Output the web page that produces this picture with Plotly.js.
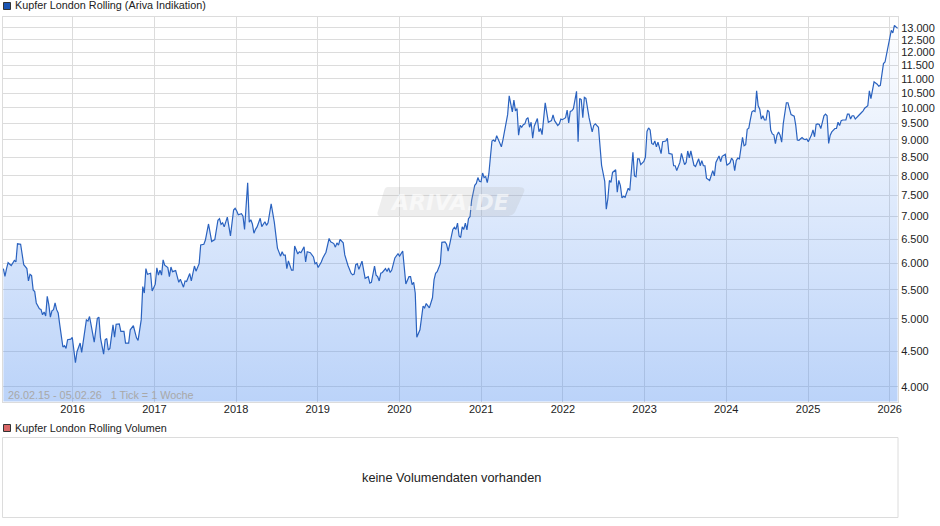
<!DOCTYPE html>
<html><head><meta charset="utf-8">
<script src="https://cdn.plot.ly/plotly-3.0.1.min.js"></script>
<style>html,body{margin:0;padding:0;background:#fff}#c{width:940px;height:526px}</style>
</head><body><div id="c"></div>
<script>
const startDate = "2015-02-26";
const weeksA = [0,1,2,3,5,7,8,9,11,12,13,15,16,17,18,19,20,21,23,24,25,26,27,28,29,30,31,32,33,34,35,36,38,39,40,41,43,44,45,46,47,49,50,51,53,54,55,56,58,60,61,62,64,65,66,67,68,70,71,72,74,75,77,78,80,81,83,85,86,88,89,90,91,92,94];
const valuesA = [5900,5750,5900,6015,5960,6060,6030,6400,6390,6170,5975,5900,5665,5790,5765,5500,5470,5270,5170,5160,5070,5115,5050,5385,5240,5030,5135,5155,5270,5155,5100,4905,4560,4580,4540,4670,4680,4705,4540,4330,4490,4620,4480,4645,4985,4965,5040,4905,4635,5010,5030,4700,4455,4670,4690,4515,4540,4905,4710,4915,4920,4800,4800,4620,4620,4825,4890,4700,4660,4985,5560,5445,5900,5790,5810];
const weeksB = [95,97,98,99,100,101,102,103,105,106,107,108,110,112,113,115,116,117,119,120,122,123,125,126,128,129,131,133,135,136,137,138,139,140,141,143,145,147,148,149,150,152,153,154,156,157,158,159,160,161,162,164,165,167,168,169,171,173,174,175,177,178,179,180,181,182,184,185,186,188];
const valuesB = [5480,5605,5915,5775,5870,5775,6070,5965,5920,5745,5930,5840,5860,5640,5695,5550,5665,5655,5805,5665,5950,5850,5995,6375,6390,6480,6830,6450,6490,6660,6915,6950,6820,6855,6765,6985,6570,7150,7190,7130,7040,7065,7005,6710,7820,6870,6925,6830,6625,6710,6765,6960,6770,6880,6800,6855,7300,6870,6620,6310,6145,6235,6165,6165,5900,6050,5870,5870,6355,6190];
const weeksC = [189,190,192,193,194,196,198,199,200,201,203,204,206,208,209,211,212,213,214,215,217,218,220,222,223,224,225,226,227,229,231,233,234,235,237,238,239,240,241,242,244,245,246,247,248,250,252,253,255,257,259,260,261,262,263,264,266,268,269,270,272,274,275,276,277,279,280,282,283,284,285];
const valuesC = [6235,6215,6335,6030,6235,6215,6130,5995,6015,5920,6030,6110,6225,6515,6440,6405,6330,6420,6370,6495,6420,6170,5965,5810,5780,5795,5975,5995,5885,6045,5715,5745,5625,5640,5950,5775,5745,5665,5810,5825,5900,5845,5910,5825,5870,6110,6195,6145,6250,5610,5745,5745,5595,5640,5445,4710,4825,5215,5185,5260,5185,5360,5685,5810,5840,5995,6430,6440,6390,6250,6390];
const weeksD = [287,288,289,290,291,292,293,294,295,296,297,298,299,301,302,303,304,305,306,307,308,309,310,311,312,313,314,315,316,318,319,321,322,323,324,325,326,327,328,329,330,331,332,333,334,335,336,337,338,339,341,342,343,344,346,347,348,350,351,352,353,354,355,356,357,359,360,361,362,363,364,366,367,368,369,370,371,372,374,376,377,378,380,381];
const valuesD = [6710,6755,6710,6850,6565,6535,6765,6710,6850,6700,6950,7000,7380,7755,7805,7955,7860,7845,8075,7955,7980,7825,8050,8510,8970,9000,8950,9130,9000,8800,9000,9490,9780,10405,10130,9870,10260,9905,9975,9145,9440,9385,9460,9490,9640,9685,9385,9540,9050,9415,9655,9245,9345,9160,10165,9780,9540,9590,9770,9590,9490,9440,9490,9640,9620,9685,9930,9520,9885,9905,9975,10560,8950,10315,10280,9685,10350,10315,9685,9245,9440,9490,9385,8860];
const weeksE = [382,384,385,386,387,388,389,391,392,393,394,395,396,397,399,400,402,403,404,405,406,407,409,410,411,412,413,414,415,416,417,418,420,421,423,424,425,427,428,429,430,432,433,435,436,437,438,439,440,441,442,444,445,446,447,448,449,451,453,454,455,457,458,459,461,462,464,465,466,467,468,469,470,472,473,474,475,476];
const valuesE = [8280,7860,7170,7420,7880,7830,8090,8160,7580,7880,7750,7440,7480,7455,7680,7625,8645,8000,7975,8460,8460,8300,8385,8510,9255,9365,9300,8900,8870,8970,8800,8935,8605,8950,8970,9050,8610,8590,8270,8270,8140,8360,8615,8300,8360,8680,8490,8680,8510,8280,8250,8460,8270,8410,8270,8270,7940,7880,8140,8000,8360,8540,8380,8530,8590,8280,8350,8480,8415,8140,8415,8480,8460,9075,8830,8860,9320,9355];
const weeksF = [477,478,479,480,481,482,483,484,485,486,487,488,489,490,491,492,493,494,495,496,497,498,500,501,503,505,506,507,508,510,511,512,513,514,516,517,518,519,520,521,522,524,525,526,527,528,529,531,532,533,534,535,536,538,539,540,541,542,543,544,546,547,548,549,550,552,553,554,556,558,559,560,562,563,564,565,567,568,569,571];
const valuesF = [9620,9870,9905,9880,10575,10070,9955,9640,9745,9610,9610,9930,9870,9300,9180,9155,8890,9145,9240,9145,8935,9490,10170,10170,9780,9730,9440,9000,8990,9075,9030,9010,9030,8950,9145,9300,9095,9470,9490,9470,9345,9745,9800,9745,8900,9145,9240,9345,9345,9540,9440,9590,9610,9610,9800,9800,9640,9745,9745,9640,9745,9815,9850,9905,9990,10070,10575,10310,10895,10810,10735,10770,11565,11625,11950,12310,12900,12790,13110,12985];

const priceTicks = [4000,4500,5000,5500,6000,6500,7000,7500,8000,8500,9000,9500,10000,10500,11000,11500,12000,12500,13000];
const priceLabels = ["4.000","4.500","5.000","5.500","6.000","6.500","7.000","7.500","8.000","8.500","9.000","9.500","10.000","10.500","11.000","11.500","12.000","12.500","13.000"];
const yearTicks = ["2016-01-01","2017-01-01","2018-01-01","2019-01-01","2020-01-01","2021-01-01","2022-01-01","2023-01-01","2024-01-01","2025-01-01","2026-01-01"];
const yearLabels = ["2016","2017","2018","2019","2020","2021","2022","2023","2024","2025","2026"];
const seriesName = "Kupfer London Rolling (Ariva Indikation)";
const volumeName = "Kupfer London Rolling Volumen";
const rangeNote = "26.02.15 - 05.02.26   1 Tick = 1 Woche";
const noVolume = "keine Volumendaten vorhanden";

const W = 940, H = 526, FONT = '"Liberation Sans", Arial, sans-serif';
const px = x => x / W, py = y => 1 - y / H;
const weeks = [].concat(weeksA, weeksB, weeksC, weeksD, weeksE, weeksF);
const values = [].concat(valuesA, valuesB, valuesC, valuesD, valuesE, valuesF);
const t0 = Date.parse(startDate + "T00:00:00Z");
const dates = weeks.map(w => new Date(t0 + w * 7 * 864e5).toISOString().slice(0, 10));
const box = "#dcdcdc";

const swatch = (x0, y0, x1, y1, c) => ({type:"rect", xref:"paper", yref:"paper", x0:px(x0), x1:px(x1), y0:py(y0), y1:py(y1), fillcolor:c, line:{color:"#333", width:1}, layer:"above"});
const label = (x, y, text, size, color, anchor, family) => ({xref:"paper", yref:"paper", x:px(x), y:py(y), text, showarrow:false, xanchor:anchor || "left", yanchor:"middle", font:{family:family || FONT, size, color}, borderpad:0, borderwidth:0});

const p = (x, y) => px(x) + "," + py(y);
const badge = "M" + p(388,187) + " L" + p(518,187) + " Q" + p(526,187) + " " + p(524,192) +
  " L" + p(515,212) + " Q" + p(513,216) + " " + p(507,216) + " L" + p(381,216) + " Q" + p(376,216) + " " + p(378,211) +
  " L" + p(384,191) + " Q" + p(385,187) + " " + p(388,187) + " Z";

Plotly.newPlot("c", [{
  x: dates, y: values, type:"scatter", mode:"lines", xaxis:"x", yaxis:"y",
  line:{color:"#2a62bf", width:1.2, shape:"linear"},
  fill:"tozeroy",
  fillgradient:{type:"vertical", start:13500, stop:3813, colorscale:[[0,"rgba(85,145,240,0)"],[1,"rgba(85,145,240,0.4)"]]},
  hoverinfo:"skip", showlegend:false
}], {
  width:W, height:H, margin:{l:0,r:0,t:0,b:0}, paper_bgcolor:"#fff", plot_bgcolor:"#fff", showlegend:false,
  font:{family:FONT, size:11, color:"#222"},
  xaxis:{domain:[px(2.5),px(898)], anchor:"y", type:"date", range:["2015-02-22","2026-02-07"], tickmode:"array", tickvals:yearTicks, ticktext:yearLabels,
    showgrid:true, gridcolor:box, gridwidth:1, zeroline:false, showline:true, linecolor:box, linewidth:1, mirror:true, ticks:"", ticklabelstandoff:-3, tickfont:{family:FONT,size:11,color:"#222"}, tickangle:0},
  yaxis:{domain:[py(401.5),py(16.5)], anchor:"x", type:"log", range:[Math.log10(3813),Math.log10(13500)], side:"right", tickmode:"array", tickvals:priceTicks, ticktext:priceLabels,
    showgrid:true, gridcolor:box, gridwidth:1, zeroline:false, showline:true, linecolor:box, linewidth:1, mirror:true, ticks:"", tickfont:{family:FONT,size:11,color:"#222"}},
  shapes:[
    swatch(3.5,2.5,10.5,9.5,"#1a55b5"),
    swatch(3.5,424.5,10.5,431.5,"#d96666"),
    {type:"rect", xref:"paper", yref:"paper", x0:px(2.5), x1:px(898), y0:py(517.5), y1:py(437.5), fillcolor:"rgba(0,0,0,0)", line:{color:box, width:1}},
    {type:"path", xref:"paper", yref:"paper", path:badge, fillcolor:"rgba(170,170,170,0.2)", line:{width:0}, layer:"above"}
  ],
  annotations:[
    label(15,5.5,seriesName,10.8,"#222"),
    label(15,427.5,volumeName,10.8,"#222"),
    label(8,395,rangeNote,10.8,"#a8a8a8"),
    label(451.5,477.5,noVolume,12.75,"#222","center"),
    label(449,202.5,"<b><i>ARIVA.DE</i></b>",22,"rgba(255,255,255,0.6)","center",'"DejaVu Sans", sans-serif')
  ]
}, {staticPlot:true, displayModeBar:false});
</script>
</body></html>
